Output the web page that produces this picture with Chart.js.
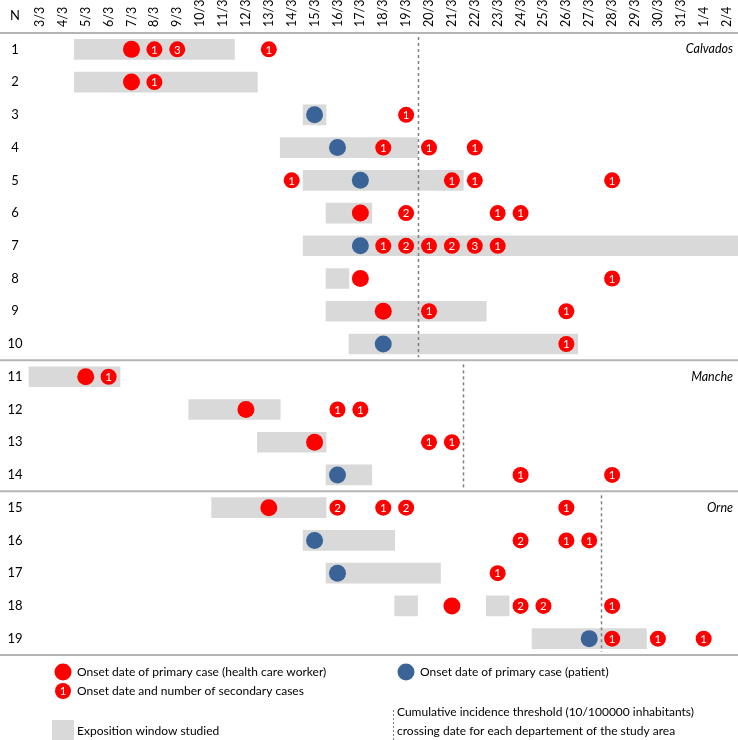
<!DOCTYPE html>
<html>
<head>
<meta charset="utf-8">
<script src="https://cdn.jsdelivr.net/npm/chart.js@4.4.1/dist/chart.umd.min.js"></script>
<style>
  html, body { margin: 0; padding: 0; background: #fff; }
  canvas { display: block; }
</style>
</head>
<body>
<canvas id="myChart" width="738" height="740"></canvas>
<script>
// day columns (tick labels)
const dates = ['3/3','4/3','5/3','6/3','7/3','8/3','9/3','10/3','11/3','12/3','13/3','14/3','15/3','16/3',
  '17/3','18/3','19/3','20/3','21/3','22/3','23/3','24/3','25/3','26/3','27/3','28/3','29/3','30/3','31/3','1/4','2/4'];
const rowLabels = ['1','2','3','4','5','6','7','8','9','10','11','12','13','14','15','16','17','18','19'];

// exposition windows (row, first day, last day)
const windowRow  = ['1','2','3','4','5','6','7','8','9','10','11','12','13','14','15','16','17','18','18','19'];
const windowFrom = ['5/3','5/3','15/3','14/3','15/3','16/3','15/3','16/3','16/3','17/3','3/3','10/3','13/3','16/3','11/3','15/3','16/3','19/3','23/3','25/3'];
const windowTo   = ['11/3','12/3','15/3','19/3','21/3','17/3','2/4','16/3','22/3','26/3','6/3','13/3','15/3','17/3','15/3','18/3','20/3','19/3','23/3','29/3'];

// primary case, health care worker
const hcwRow  = ['1','2','6','8','9','11','12','13','15','18'];
const hcwDate = ['7/3','7/3','17/3','17/3','18/3','5/3','12/3','15/3','13/3','21/3'];

// primary case, patient
const patRow  = ['3','4','5','7','10','14','16','17','19'];
const patDate = ['15/3','16/3','17/3','17/3','18/3','16/3','15/3','16/3','27/3'];

// secondary cases
const secRow = ['1','1','1','2','3','4','4','4','5','5','5','5','6','6','6',
  '7','7','7','7','7','7','8','9','9','10','11','12','12','13','13','14','14',
  '15','15','15','15','16','16','16','17','18','18','18','19','19','19'];
const secDate = ['8/3','9/3','13/3','8/3','19/3','18/3','20/3','22/3','14/3','21/3','22/3','28/3','19/3','23/3','24/3',
  '18/3','19/3','20/3','21/3','22/3','23/3','28/3','20/3','26/3','26/3','6/3','16/3','17/3','20/3','21/3','24/3','28/3',
  '16/3','18/3','19/3','26/3','24/3','26/3','27/3','23/3','24/3','25/3','28/3','28/3','30/3','1/4'];
const secCount = [1,3,1,1,1,1,1,1,1,1,1,1,2,1,1,
  1,2,1,2,3,1,1,1,1,1,1,1,1,1,1,1,1,
  2,1,2,1,2,1,1,1,2,2,1,1,1,1];

// departments: name, first row, last row, threshold crossing (between two days)
const deptName = ['Calvados','Manche','Orne'];
const deptFirst = ['1','11','15'];
const deptLast = ['10','14','19'];
const deptThresholdAfter = ['19/3','21/3','27/3'];

const RED = '#ff0000';
const BLUE = '#3a6497';
const GRAY = '#d9d9d9';
const FONT = 'Lato, "Open Sans", sans-serif';

function di(d){ return dates.indexOf(d); }
function ri(r){ return rowLabels.indexOf(r); }

const windows = windowRow.map((r,i)=>({y:r, x:[di(windowFrom[i])-0.5, di(windowTo[i])+0.5]}));
const hcw = hcwRow.map((r,i)=>({y:r, x:di(hcwDate[i])}));
const pat = patRow.map((r,i)=>({y:r, x:di(patDate[i])}));
const sec = secRow.map((r,i)=>({y:r, x:di(secDate[i]), n:secCount[i]}));

const overlay = {
  id:'overlay',
  afterDatasetsDraw(chart){
    const ctx = chart.ctx;
    const xs = chart.scales.x, ys = chart.scales.y;
    const ca = chart.chartArea;
    ctx.save();

    // department separators
    const seps = [ca.top];
    deptLast.forEach(r=>seps.push(ys.getPixelForValue(ri(r)+0.5)));
    ctx.strokeStyle = '#b4b4b4';
    ctx.lineWidth = 2;
    seps.forEach(y=>{
      ctx.beginPath(); ctx.moveTo(0,y); ctx.lineTo(chart.width,y); ctx.stroke();
    });

    // threshold lines + department names
    deptName.forEach((name,i)=>{
      const x = Math.round(xs.getPixelForValue(di(deptThresholdAfter[i])+0.5))+0.5;
      const y0 = ys.getPixelForValue(ri(deptFirst[i])-0.5)+4;
      const y1 = ys.getPixelForValue(ri(deptLast[i])+0.5)-3;
      ctx.strokeStyle = '#7f7f7f';
      ctx.lineWidth = 1.5;
      ctx.setLineDash([3,3]);
      ctx.beginPath(); ctx.moveTo(x,y0); ctx.lineTo(x,y1); ctx.stroke();
      ctx.setLineDash([]);
      ctx.fillStyle = '#000';
      ctx.font = 'italic 12.5px ' + FONT;
      ctx.textAlign = 'right';
      ctx.textBaseline = 'middle';
      ctx.fillText(name, 733, ys.getPixelForValue(ri(deptFirst[i])));
    });

    // numbers in secondary case circles
    const meta = chart.getDatasetMeta(3);
    ctx.fillStyle = '#fff';
    ctx.font = '11.5px ' + FONT;
    ctx.textAlign = 'center';
    ctx.textBaseline = 'middle';
    meta.data.forEach((p,i)=>{
      ctx.fillText(String(sec[i].n), p.x, p.y+0.5);
    });

    // header
    ctx.fillStyle = '#000';
    ctx.font = '13px ' + FONT;
    ctx.fillText('N', 15, 16);

    // legend
    const b = ca.bottom;
    ctx.textAlign = 'left';
    ctx.fillStyle = RED;
    ctx.beginPath(); ctx.arc(63, b+17, 8.5, 0, Math.PI*2); ctx.fill();
    ctx.beginPath(); ctx.arc(63, b+36, 8, 0, Math.PI*2); ctx.fill();
    ctx.fillStyle = BLUE;
    ctx.beginPath(); ctx.arc(406, b+17, 8.5, 0, Math.PI*2); ctx.fill();
    ctx.fillStyle = GRAY;
    ctx.fillRect(52, b+65, 22, 22);
    ctx.fillStyle = '#fff';
    ctx.font = '11.5px ' + FONT;
    ctx.textAlign = 'center';
    ctx.fillText('1', 63, b+36.5);
    ctx.textAlign = 'left';
    ctx.fillStyle = '#000';
    ctx.font = '12px ' + FONT;
    ctx.fillText('Onset date of primary case (health care worker)', 77, b+17);
    ctx.fillText('Onset date and number of secondary cases', 77, b+36);
    ctx.fillText('Exposition window studied', 77, b+76);
    ctx.fillText('Onset date of primary case (patient)', 420, b+17);
    ctx.fillText('Cumulative incidence threshold (10/100000 inhabitants)', 397, b+57);
    ctx.fillText('crossing date for each departement of the study area', 397, b+76);
    ctx.strokeStyle = '#7f7f7f';
    ctx.lineWidth = 1;
    ctx.setLineDash([2,2]);
    ctx.beginPath(); ctx.moveTo(393.5, b+55); ctx.lineTo(393.5, b+85); ctx.stroke();
    ctx.restore();
  }
};

const config = {
  type: 'bar',
  data: {
    datasets: [{
      type: 'bar',
      label: 'Exposition window studied',
      data: windows,
      backgroundColor: GRAY,
      borderWidth: 0,
      barThickness: 20,
      grouped: false,
      order: 2
    },{
      type: 'scatter',
      label: 'Onset date of primary case (health care worker)',
      data: hcw,
      backgroundColor: RED,
      borderWidth: 0,
      pointRadius: 8.5,
      order: 1
    },{
      type: 'scatter',
      label: 'Onset date of primary case (patient)',
      data: pat,
      backgroundColor: BLUE,
      borderWidth: 0,
      pointRadius: 8.5,
      order: 1
    },{
      type: 'scatter',
      label: 'Onset date and number of secondary cases',
      data: sec,
      backgroundColor: RED,
      borderWidth: 0,
      pointRadius: 8,
      order: 1
    }]
  },
  options: {
    indexAxis: 'y',
    responsive: false,
    animation: false,
    devicePixelRatio: 1,
    layout: { autoPadding: false, padding: { top: 0, left: 0, right: 0, bottom: 85 } },
    plugins: { legend: { display: false }, tooltip: { enabled: false } },
    scales: {
      x: {
        type: 'linear',
        position: 'top',
        min: -0.5,
        max: 30.5,
        grid: { display: false, drawTicks: false },
        border: { display: false },
        afterBuildTicks: s => { s.ticks = dates.map((d,i)=>({value:i})); },
        afterFit: s => { s.height = 33; s.paddingLeft = 0; s.paddingRight = 0; },
        ticks: {
          autoSkip: false,
          minRotation: 90,
          maxRotation: 90,
          padding: 6,
          labelOffset: 15,
          color: '#000',
          font: { family: FONT, size: 12.5 },
          callback: v => dates[v]
        }
      },
      y: {
        type: 'category',
        labels: rowLabels,
        offset: true,
        grid: { display: false, drawTicks: false },
        border: { display: false },
        afterFit: s => { s.width = 28.5; },
        ticks: {
          crossAlign: 'center',
          padding: 6,
          color: '#000',
          font: { family: FONT, size: 13 }
        }
      }
    }
  },
  plugins: [overlay]
};

let myChart = new Chart(document.getElementById('myChart'), config);
</script>
</body>
</html>
